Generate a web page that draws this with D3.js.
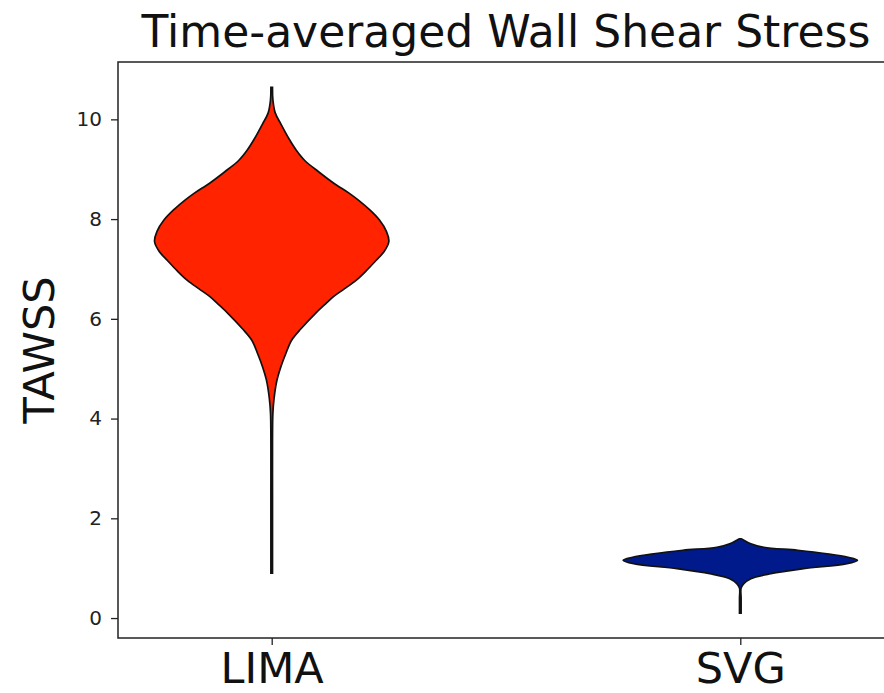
<!DOCTYPE html>
<html>
<head>
<meta charset="utf-8">
<title>Time-averaged Wall Shear Stress</title>
<script src="https://cdn.jsdelivr.net/npm/d3@7"></script>
<style>
  body { margin: 0; background: #fff; }
  text { font-family: "DejaVu Sans", sans-serif; }
</style>
</head>
<body>
<svg width="884" height="693"></svg>
<script>
// categories and colours
var categories = ["LIMA", "SVG"];
var fillColors = ["#ff2300", "#001a8c"];

// kernel density profiles (relative width, 1 = widest)
var limaLevels  = [10.64, 10.4, 10.13, 9.9, 9.6, 9.38, 9.18, 8.95, 8.72, 8.52, 8.38, 8.2, 7.98, 7.75, 7.55, 7.35, 7.17, 6.97, 6.77, 6.6, 6.45, 6.3, 6.1, 5.8, 5.57, 5.3, 5.05, 4.77, 4.4, 4.1, 3.5, 2.5, 1.5, 0.9];
var limaDensity = [0.0, 0.01, 0.03, 0.08, 0.15, 0.21, 0.28, 0.4, 0.53, 0.66, 0.74, 0.83, 0.92, 0.98, 1.0, 0.96, 0.89, 0.81, 0.72, 0.62, 0.53, 0.46, 0.37, 0.25, 0.17, 0.12, 0.08, 0.045, 0.02, 0.01, 0.005, 0.004, 0.004, 0.0];

var svgLevels  = [1.59, 1.56, 1.49, 1.42, 1.36, 1.29, 1.22, 1.16, 1.09, 0.99, 0.89, 0.79, 0.69, 0.6, 0.4, 0.2, 0.1];
var svgDensity = [0.0, 0.03, 0.09, 0.2, 0.49, 0.74, 0.92, 1.0, 0.91, 0.54, 0.26, 0.09, 0.03, 0.006, 0.005, 0.005, 0.0];

var yTicks = [0, 2, 4, 6, 8, 10];

var svg = d3.select("svg");
var margin = {left: 118, top: 62, right: 894, bottom: 638};

var x = d3.scaleLinear().domain([0.672, 2.328]).range([margin.left, margin.right]);
var y = d3.scaleLinear().domain([-0.4, 11.15]).range([margin.bottom, margin.top]);
var halfW = d3.scaleLinear().domain([0, 1]).range([0, x(1.25) - x(1)]);

var profiles = [
  d3.zip(limaLevels, limaDensity),
  d3.zip(svgLevels, svgDensity)
];

var area = d3.area()
  .y(function(d) { return y(d[0]); })
  .curve(d3.curveCatmullRom.alpha(0.5));

profiles.forEach(function(p, i) {
  var cx = x(i + 1);
  area.x0(function(d) { return cx - Math.max(halfW(d[1]), 0.8); })
      .x1(function(d) { return cx + Math.max(halfW(d[1]), 0.8); });
  svg.append("path")
    .datum(p)
    .attr("d", area)
    .attr("fill", fillColors[i])
    .attr("stroke", "#111")
    .attr("stroke-width", 1.7);
});

// axes frame
svg.append("rect")
  .attr("x", margin.left).attr("y", margin.top)
  .attr("width", margin.right - margin.left)
  .attr("height", margin.bottom - margin.top)
  .attr("fill", "none").attr("stroke", "#222").attr("stroke-width", 1.5);

var yAxis = svg.append("g")
  .attr("transform", "translate(" + margin.left + ",0)")
  .call(d3.axisLeft(y).tickValues(yTicks).tickSize(7).tickPadding(9));
yAxis.select(".domain").remove();
yAxis.selectAll("text").attr("font-size", 20).attr("fill", "#222")
  .attr("font-family", "DejaVu Sans");
yAxis.selectAll("line").attr("stroke", "#222").attr("stroke-width", 1.3);

var xAxis = svg.append("g")
  .attr("transform", "translate(0," + margin.bottom + ")")
  .call(d3.axisBottom(x).tickValues([1, 2]).tickFormat(function(d) { return categories[d - 1]; })
    .tickSize(7).tickPadding(5));
xAxis.select(".domain").remove();
xAxis.selectAll("text").attr("font-size", 43).attr("fill", "#111")
  .attr("font-family", "DejaVu Sans").attr("dy", "0.76em");
xAxis.selectAll("line").attr("stroke", "#222").attr("stroke-width", 1.3);

// title and axis label
svg.append("text")
  .attr("x", (margin.left + margin.right) / 2)
  .attr("y", 46.5)
  .attr("text-anchor", "middle")
  .attr("font-size", 44)
  .attr("fill", "#111")
  .text("Time-averaged Wall Shear Stress");

svg.append("text")
  .attr("transform", "translate(54," + (margin.top + margin.bottom) / 2 + ") rotate(-90)")
  .attr("text-anchor", "middle")
  .attr("font-size", 43)
  .attr("fill", "#111")
  .text("TAWSS");
</script>
</body>
</html>
